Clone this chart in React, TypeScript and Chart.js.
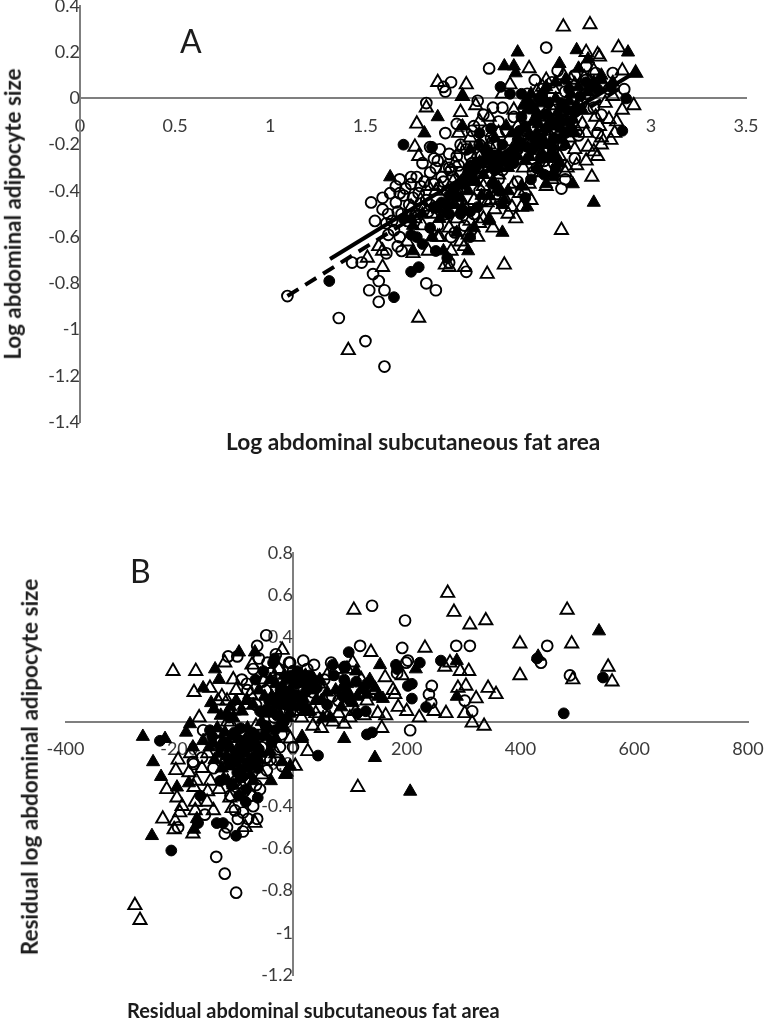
import React, { useEffect, useRef } from "react";
import { Chart, registerables } from "chart.js";

Chart.register(...registerables);

type P = number[];

const aOpenTriangles: P[] = [
  [2.54,.31],[2.68,.32],[2.83,.22],[2.66,.2],[2.72,.19],[2.73,.18],[2.36,.13],[2.92,.11],[2.85,.12],[1.88,.07],[2.03,.06],[2.45,.08],[2.26,.06],[2.22,.02],[2.01,.01],[1.82,-.04],[2.08,-.03],[1.77,-.11],[2,-.06],[1.99,-.15],[1.76,-.21],[1.78,-.25],[2.91,-.03],[2.85,-.05],[2.81,-.15],[2.74,-.17],[2.67,-.21],[2.7,-.23],[2.66,-.27],[2.61,-.29],[2.55,-.32],[2.69,-.34],[2.36,-.37],[2.4,-.25],[2.45,-.3],[2.2,-.39],[2.16,-.44],[2.14,-.45],[1.95,-.44],[2.27,-.47],[2.32,-.47],[2.29,-.52],[2.17,-.56],[2.53,-.57],[2.04,-.59],[1.41,-1.09],[1.78,-.95],[1.51,-.69],[1.59,-.73],[1.57,-.64],[1.59,-.66],[2.02,-.73],[2.14,-.76],[2.23,-.72],[1.94,-.73],[1.92,-.72],[2.02,-.64],[2.05,-.53],[1.96,-.45],[2.1,-.54],[1.88,-.6],[1.75,-.67],[1.83,-.66],[1.89,-.6],[1.72,-.62],
  [2.1,-.28],[2.15,-.2],[2.2,-.33],[2.25,-.25],[2.3,-.12],[2.33,-.3],[2.38,-.18],[2.41,-.08],[2.44,-.22],[2.47,-.03],[2.5,-.14],[2.52,-.25],[2.55,-.06],[2.57,-.17],[2.6,-.22],[2.62,-.02],[2.64,-.11],[2.66,-.15],[2.69,.03],[2.71,-.08],[2.73,-.12],[2.75,.06],[2.76,-.02],[2.78,-.09],[2.8,.01],[2.82,-.1],[2.58,.08],[2.54,.1],[2.49,.04],[2.6,.06],[2.65,.09],[2.7,.12],[2.43,.05],[2.56,-.3],[2.48,-.35],[2.42,-.32],[2.34,-.4],[2.28,-.37],[2.2,-.42],[2.12,-.38],[2.07,-.44],[2.03,-.48],[1.98,-.52],[1.94,-.56],[1.9,-.47],[1.85,-.5],[1.8,-.55],[1.96,-.36],[2.05,-.3],[1.92,-.3],[1.87,-.4],[1.83,-.38],[1.79,-.44],[1.74,-.47],[2.25,-.5],[2.18,-.48],[2.12,-.52],[2.09,-.6],[2,-.62],[1.95,-.66],[2.1,-.1],[2.15,-.08],[2.05,-.17],[2,-.22],[2.35,-.02],[2.28,-.05],[2.4,.03],[2.2,-.15],[2.45,-.38],[2.6,-.12],[2.67,-.05],[2.74,-.2],[2.79,-.18],[2.72,-.25],
  [1.97,-.28],[2.03,-.33],[2.09,-.24],[2.13,-.3],[2.17,-.36],[2.23,-.43],[1.89,-.38],[1.81,-.47],[1.76,-.52],[2.31,-.41],[2.37,-.44],
];

const aOpenCircles: P[] = [
  [2.45,.22],[2.15,.13],[1.95,.07],[1.91,.05],[1.92,.03],[1.82,-.02],[2.09,-.01],[2.17,-.04],[2.22,-.04],[2.12,-.07],[2.39,.08],[2.51,.12],[2.66,.14],[2.71,.11],[2.8,.11],[2.86,.04],[1.98,-.11],[1.92,-.15],[1.89,-.22],[1.84,-.21],[1.94,-.24],[1.98,-.25],[1.94,-.3],[1.87,-.3],[2,-.32],[2.53,-.39],[2.38,-.32],[1.09,-.855],[1.36,-.95],[1.5,-1.05],[1.6,-1.16],[1.43,-.71],[1.48,-.71],[1.54,-.76],[1.57,-.79],[1.52,-.83],[1.6,-.83],[1.57,-.88],[1.82,-.8],[1.87,-.83],[2.03,-.75],[1.61,-.67],[1.67,-.64],[1.69,-.66],[1.68,-.6],[1.62,-.59],[1.61,-.54],[1.53,-.45],[1.59,-.48],[1.67,-.49],[1.95,-.6],[1.94,-.71],[1.68,-.35],[1.74,-.34],[1.77,-.34],[1.63,-.41],[1.59,-.43],[1.66,-.38],[1.71,-.39],[1.74,-.37],[2.06,-.14],
  [1.55,-.53],[1.62,-.5],[1.66,-.45],[1.7,-.42],[1.75,-.43],[1.78,-.41],[1.82,-.44],[1.86,-.37],[1.9,-.34],[1.95,-.31],[1.98,-.4],[2.02,-.35],[2.05,-.25],[2.08,-.33],[2.1,-.2],[2.14,-.27],[2.18,-.25],[2.22,-.31],[2.26,-.18],[2.3,-.22],[2.34,-.14],[2.38,-.26],[2.42,-.1],[2.46,-.16],[2.5,-.05],[2.54,-.2],[2.58,-.09],[2.62,-.16],[2.66,.02],[2.7,-.04],[2.74,-.07],[2.78,.04],[2.48,.07],[2.44,-.27],[2.3,-.36],[2.2,-.35],[2.13,-.44],[2.07,-.5],[2.02,-.55],[1.97,-.58],[1.92,-.5],[1.88,-.55],[1.84,-.46],[1.77,-.5],[1.72,-.53],[1.65,-.57],[1.68,-.41],[1.8,-.28],[1.86,-.26],[2,-.2],[2.07,-.12],[2.14,-.14],[2.2,-.1],[2.28,-.08],[1.93,-.4],[2.1,-.4],[2.4,-.3],[2.55,-.35],[2.6,-.26],[2.72,-.15],[2.35,.02],[2.55,.03],[2.6,.1],[2.66,.08],
  [1.81,-.36],[1.84,-.32],[1.88,-.27],[1.91,-.36],[1.96,-.34],[1.99,-.29],[2.03,-.22],[2.06,-.28],[2.11,-.25],[2.16,-.17],[2.19,-.21],[2.24,-.14],[1.73,-.46],[1.69,-.5],[1.64,-.53],[1.79,-.38],[1.83,-.49],
];

const aFilledTriangles: P[] = [
  [2.3,.2],[2.23,.14],[2.28,.14],[2.29,.11],[2.61,.21],[2.88,.2],[2.52,.15],[2.62,.13],[2.67,.17],[2.74,.1],[2.92,.11],[2.01,.01],[1.88,-.08],[1.81,-.15],[2.7,-.45],[2.59,-.37],[2.45,-.37],[2.49,-.32],[2.49,-.34],[2.51,-.26],[2.23,-.44],[2.35,-.47],[2.22,-.46],[2.15,-.52],[2.22,-.58],[1.91,-.66],[2.04,-.66],[2.15,-.53],[1.75,-.66],[1.74,-.52],[1.63,-.34],[2.01,-.12],
  [2.35,-.05],[2.38,-.1],[2.4,-.15],[2.42,-.02],[2.44,-.2],[2.46,-.07],[2.48,-.12],[2.5,0],[2.52,-.18],[2.54,-.04],[2.56,-.1],[2.58,.02],[2.6,-.15],[2.62,.05],[2.64,-.05],[2.67,.03],[2.7,.07],[2.74,.08],[2.8,.07],[2.33,-.2],[2.3,-.25],[2.27,-.15],[2.36,-.25],[2.4,-.3],[2.46,-.26],[2.52,-.28],[2.25,-.3],[2.2,-.24],[2.16,-.3],[2.12,-.33],[2.08,-.36],[2.04,-.4],[2,-.43],[1.96,-.46],[1.92,-.5],[1.88,-.48],[2.1,-.2],[2.05,-.22],[2.18,-.17],[2.24,-.12],[1.85,-.6],[1.98,-.58],[2.07,-.56],[2.15,-.42],[2.25,-.4],[2.32,-.38],[1.8,-.5],[1.75,-.55],[2.55,.08],[2.5,.07],[2.45,.05],
  [2.33,-.03],[2.37,.02],[2.41,-.11],[2.43,-.17],[2.47,-.1],[2.49,-.21],[2.51,-.06],[2.53,-.13],[2.55,-.2],[2.57,-.01],[2.59,-.09],[2.61,-.03],[2.36,-.15],[2.39,-.05],[2.44,0],[2.29,-.21],[2.34,-.27],[2.43,-.24],[2.19,-.28],[2.14,-.22],
  [2.03,-.34],[2.07,-.31],[2.13,-.27],[2.21,-.26],[2.27,-.22],[1.98,-.42],[1.93,-.46],[1.89,-.52],[2.01,-.47],[2.11,-.42],
];

const aFilledCircles: P[] = [
  [2.21,.05],[2.26,.02],[2.32,.02],[2.79,.05],[2.87,0],[2.85,-.14],[1.7,-.2],[1.85,-.21],[2.34,-.43],[2.17,-.37],[1.31,-.79],[1.65,-.86],[1.74,-.75],[1.78,-.73],[1.87,-.66],[1.93,-.69],[1.74,-.59],[1.8,-.63],[1.7,-.52],[1.94,-.5],[2.05,-.49],
  [2.36,-.02],[2.4,-.08],[2.43,.02],[2.45,-.13],[2.47,-.2],[2.5,-.1],[2.53,-.02],[2.55,-.15],[2.57,.04],[2.6,-.06],[2.63,.01],[2.68,.05],[2.72,.04],[2.34,-.12],[2.38,-.22],[2.42,-.26],[2.48,-.24],[2.3,-.18],[2.26,-.24],[2.22,-.2],[2.16,-.25],[2.12,-.27],[2.06,-.33],[2.02,-.37],[1.98,-.38],[1.94,-.42],[1.9,-.45],[1.86,-.47],[2.1,-.15],[2.16,-.13],[2,-.5],[2.09,-.47],[1.84,-.56],[1.77,-.6],[2.05,-.6],[2.44,-.33],[2.5,-.3],[2.37,-.35],[2.2,-.4],
  [2.32,-.08],[2.38,-.04],[2.41,0],[2.44,-.07],[2.46,-.02],[2.49,-.17],[2.52,-.09],[2.56,-.05],[2.58,-.13],[2.39,-.18],[2.35,-.21],[2.28,-.28],[2.41,-.2],[2.24,-.27],[2.18,-.31],[2.08,-.28],
  [2.14,-.24],[2.04,-.3],[1.96,-.4],[2.2,-.3],[2.31,-.14],[2.66,.07],
];

const aSolidTrend: P[] = [[1.314,-.695],[2.93,.12]];
const aDashedTrend: P[] = [[1.09,-.855],[2.85,.05]];

const bOpenTriangles: P[] = [
  [107,.53],[272,.61],[283,.52],[311,.46],[339,.48],[482,.53],[399,.37],[490,.37],[399,.22],[554,.26],[561,.19],[492,.2],[232,.35],[137,.33],[276,.28],[267,.26],[294,.24],[309,.24],[304,.17],[290,.16],[343,.16],[357,.13],[322,.11],[248,.05],[269,.04],[302,.04],[315,-.005],[336,-.02],[200,.05],[185,.07],[222,.02],[163,.03],[149,.04],[156,-.03],[114,-.31],[26,-.14],[192,.22],[162,.21],[176,.15],[179,.13],
  [-211,.24],[-171,.24],[-105,.2],[-174,.14],[-146,.16],[-120,.28],[-72,.27],[-19,.34],[-132,.1],[-116,.1],[-165,.02],[-202,-.18],[-206,-.23],[-183,-.24],[4,-.21],[-222,-.32],[-204,-.36],[-195,-.4],[-229,-.46],
  [-278,-.87],[-269,-.94],[-199,-.43],[-207,-.47],[-209,-.51],[-176,-.53],[-172,-.38],[-172,-.42],[-151,-.38],[-111,-.36],[-107,-.41],[-84,-.5],[-67,-.48],[-174,-.31],
  [-150,-.15],[-160,-.22],[-145,-.28],[-130,-.32],[-120,-.08],[-112,.05],[-100,.15],[-90,-.3],[-85,.08],[-75,.13],[-65,-.02],[-55,-.25],[-50,.2],[-40,-.05],[-30,-.15],[-25,.25],[-15,.05],[-5,-.08],[5,.05],[15,.02],[25,.05],[35,-.02],[40,.04],[50,-.03],[60,.02],[70,0],[80,.04],[90,-.01],[100,.02],[110,.05],[125,.03],[45,.18],[60,.22],[75,.25],[95,.25],[105,.28],[120,.2],[130,.1],[145,.15],[-170,-.28],[-180,-.15],[-140,-.42],[-115,0],[-135,-.05],[-125,.12],[-150,-.33],[-95,-.12],
];

const bOpenCircles: P[] = [
  [139,.55],[197,.48],[118,.36],[192,.35],[287,.36],[311,.36],[447,.36],[436,.28],[487,.22],[202,.29],[199,.28],[244,.17],[239,.13],[243,.09],[302,.1],[315,.05],[206,-.04],[69,.12],[18,.29],[37,.27],[-5,.28],[67,.28],[0,-.12],[91,.26],[183,.23],
  [-47,.41],[-63,.36],[-114,.31],[-98,.31],[-7,.28],[-25,.25],[-39,.23],[-81,.18],[-54,.19],[-158,-.04],[-23,-.12],[-47,-.17],[-28,-.18],[-19,-.21],[-46,-.23],[-63,-.2],[-176,-.19],
  [-135,-.64],[-120,-.72],[-100,-.81],[-202,-.5],[-120,-.53],[-155,-.44],[-116,-.5],[-97,-.46],[-88,-.52],[-79,-.46],[-63,-.46],[-102,-.42],[-88,-.43],[-70,-.4],[-58,-.32],[-86,-.33],
  [-130,-.1],[-120,-.2],[-110,-.02],[-105,-.12],[-95,.06],[-88,-.18],[-80,.15],[-72,-.2],[-65,.08],[-55,-.12],[-48,.15],[-40,-.18],[-33,.02],[-28,.2],[-20,-.06],[-12,.18],[-5,.05],[0,.24],[8,.16],[16,.06],[25,.25],[35,.14],[45,.02],[55,.2],[-100,-.28],[-85,-.28],[-65,-.3],[-140,-.22],[-160,-.17],[-175,-.2],[-150,-.08],[-90,.2],[-70,.25],[-60,.3],[-45,.28],[-30,.32],[-110,-.35],[-75,-.35],[65,.12],[80,.1],
];

const bFilledTriangles: P[] = [
  [538,.43],[431,.31],[288,.29],[216,.25],[288,.12],[144,-.17],[206,-.33],[153,.27],[90,-.08],[16,-.07],[-5,-.21],[-14,-.25],[111,.24],[144,.16],[158,.11],[86,.16],[97,.14],[130,.13],[113,.12],[40,.1],[18,.11],[53,.02],[65,.02],[25,.06],
  [-95,.33],[-67,.33],[-137,.25],[-130,.2],[-158,.16],[-144,.09],[-139,.06],[-181,-.01],[-188,-.05],[-264,-.07],[-225,-.08],[-158,-.09],[-176,-.12],[-246,-.19],[-232,-.26],[-204,-.31],[-12,-.25],[-39,-.28],[16,-.08],[42,.1],
  [-248,-.54],[-174,-.51],[-169,-.46],[-19,-.19],[-11,-.24],[-183,-.29],
  [-120,-.05],[-110,-.12],[-105,.02],[-100,-.2],[-95,-.08],[-90,.05],[-85,-.15],[-80,-.03],[-75,-.25],[-70,.08],[-65,-.1],[-60,-.18],[-55,0],[-50,.12],[-45,-.07],[-40,-.14],[-35,.05],[-30,.18],[-25,-.02],[-20,.1],[-15,.22],[-10,.02],[-5,.15],[0,.07],[5,.2],[10,.12],[15,.18],[25,.2],[30,.15],[-130,-.15],[-125,-.22],[-115,-.28],[-105,-.3],[-95,-.27],[-85,-.22],[-70,-.28],[-140,-.1],[-60,.15],[-80,.1],[-40,.2],[-15,-.03],[30,.05],[50,.1],[60,.14],[75,.15],[85,.07],[95,.18],[105,.09],[120,.15],[135,.2],[150,.12],[-100,.1],[-110,.07],
  [-117,-.16],[-108,-.07],[-97,-.14],[-93,-.23],[-83,-.08],[-77,-.18],[-68,-.16],[-62,-.07],[-57,-.15],[-47,.04],[-43,-.03],[-37,.12],[-27,.09],[-18,.17],[-8,.2],[-122,-.27],[-112,-.21],[-90,-.18],[-72,-.12],[-52,-.06],
  [-147,-.12],[-138,-.18],[-133,-.03],[-127,.03],[-123,-.09],[-116,.04],[-30,-.08],[-22,.03],[-14,.11],[-6,.04],[12,.2],[22,.22],[35,.17],[47,.2],
];

const bFilledCircles: P[] = [
  [476,.04],[545,.21],[429,.3],[260,.29],[223,.28],[181,.27],[183,.25],[209,.18],[202,.17],[209,.11],[234,.07],[130,-.06],[139,-.05],[44,-.16],[113,.04],[128,.05],[111,.19],[98,.33],[91,.26],[70,.27],[130,.18],
  [-32,.3],[-234,-.09],[-146,-.04],[-62,-.36],[-163,-.35],
  [-214,-.61],[-100,-.54],[-134,-.48],[-123,-.48],[-167,-.48],[-83,-.38],
  [-118,-.1],[-102,-.16],[-92,-.03],[-88,-.26],[-78,-.12],[-72,-.05],[-62,-.22],[-58,.05],[-48,-.02],[-42,.1],[-38,-.1],[-28,.03],[-22,.15],[-12,.08],[-3,.22],[3,.13],[8,.24],[14,.08],[20,.22],[28,.18],[36,.2],[-108,-.3],[-95,-.35],[-82,-.32],[-128,-.28],[-66,.2],[-52,.24],[-35,.28],[60,.08],[72,.22],[88,.12],[100,.1],[90,.2],
  [-113,-.19],[-103,-.05],[-98,-.24],[-86,-.09],[-76,-.2],[-68,-.07],[-60,-.13],[-46,.06],[-32,-.04],[-24,.08],[-10,.14],[-2,.1],[22,.14],[-90,-.12],[-70,-.17],
  [-142,-.07],[-128,-.12],[-112,.02],[-26,.12],[-16,.0],[6,.18],[30,.22],[42,.16],
];

const titleAX = "Log abdominal subcutaneous fat area";
const titleAY = "Log abdominal adipocyte size";
const titleBX = "Residual abdominal subcutaneous fat area";
const titleBY = "Residual log abdominal adipocyte size";

const FONT = "Lato, 'Open Sans', sans-serif";
const AXIS = "#7f7f7f";
const TICK = "#3a3a3a";

const pts = (a: P[]) => a.map(([x, y]) => ({ x, y }));

function marker(label: string, data: P[], style: string, filled: boolean) {
  const tri = style === "triangle";
  return {
    label,
    data: pts(data),
    pointStyle: style,
    pointRadius: tri ? 7.6 : 5.4,
    pointBorderWidth: filled ? 1 : 1.9,
    pointBorderColor: "#000",
    pointBackgroundColor: filled ? "#000" : "rgba(255,255,255,0)",
    showLine: false,
    clip: false as const,
  };
}

function line(label: string, data: P[], dash: number[]) {
  return {
    label,
    data: pts(data),
    showLine: true,
    pointRadius: 0,
    borderColor: "#000",
    borderWidth: 4,
    borderDash: dash,
    clip: false as const,
  };
}

function scale(min: number, max: number, step: number, axisPos: any) {
  return {
    type: "linear" as const,
    min,
    max,
    position: axisPos,
    grid: { display: false, drawTicks: false },
    border: { display: true, color: AXIS, width: 2 },
    ticks: {
      stepSize: step,
      autoSkip: false,
      maxRotation: 0,
      padding: 17,
      color: TICK,
      font: { family: FONT, size: 18 },
      callback: (v: any) => String(Math.round(Number(v) * 10) / 10),
    },
  };
}

function ScatterChart(props: { width: number; height: number; top: number; padding: any; datasets: any[]; x: any; y: any }) {
  const ref = useRef<HTMLCanvasElement>(null);
  useEffect(() => {
    const chart = new Chart(ref.current as HTMLCanvasElement, {
      type: "scatter",
      data: { datasets: props.datasets },
      options: {
        animation: false,
        responsive: false,
        layout: { padding: props.padding },
        plugins: { legend: { display: false }, title: { display: false }, tooltip: { enabled: false } },
        scales: { x: props.x, y: props.y },
      } as any,
    });
    return () => chart.destroy();
  }, []);
  return (
    <canvas
      ref={ref}
      width={props.width}
      height={props.height}
      style={{ position: "absolute", left: 0, top: props.top, width: props.width, height: props.height }}
    />
  );
}

const hText = (text: string, left: number, top: number, size: number, bold: boolean): React.ReactElement => (
  <div
    style={{
      position: "absolute",
      left,
      top,
      fontFamily: FONT,
      fontSize: size,
      fontWeight: bold ? 700 : 400,
      color: "#1c1c1c",
      whiteSpace: "nowrap",
      lineHeight: 1,
    }}
  >
    {text}
  </div>
);

const vText = (text: string, cx: number, cy: number, size: number): React.ReactElement => (
  <div
    style={{
      position: "absolute",
      left: cx,
      top: cy,
      transform: "translate(-50%,-50%) rotate(-90deg)",
      fontFamily: FONT,
      fontSize: size,
      fontWeight: 700,
      color: "#1c1c1c",
      whiteSpace: "nowrap",
      lineHeight: 1,
    }}
  >
    {text}
  </div>
);

export default function App() {
  const dsA = [
    line("Trend solid", aSolidTrend, []),
    line("Trend dashed", aDashedTrend, [13, 8]),
    marker("Open triangle", aOpenTriangles, "triangle", false),
    marker("Open circle", aOpenCircles, "circle", false),
    marker("Filled triangle", aFilledTriangles, "triangle", true),
    marker("Filled circle", aFilledCircles, "circle", true),
  ];
  const dsB = [
    marker("Open triangle", bOpenTriangles, "triangle", false),
    marker("Open circle", bOpenCircles, "circle", false),
    marker("Filled triangle", bFilledTriangles, "triangle", true),
    marker("Filled circle", bFilledCircles, "circle", true),
  ];
  return (
    <div style={{ position: "absolute", left: 0, top: 0, width: 766, height: 1020, overflow: "hidden", background: "#fff" }}>
      <ScatterChart
        width={826}
        height={532}
        top={-40}
        padding={{ left: 80, right: 80, top: 46, bottom: 70 }}
        datasets={dsA}
        x={scale(0, 3.5, 0.5, { y: 0 })}
        y={scale(-1.4, 0.4, 0.2, { x: 0 })}
      />
      <ScatterChart
        width={826}
        height={555}
        top={490}
        padding={{ left: 65.5, right: 78, top: 63, bottom: 70 }}
        datasets={dsB}
        x={scale(-400, 800, 200, { y: 0 })}
        y={scale(-1.2, 0.8, 0.2, { x: 0 })}
      />
      {hText("A", 180, 25, 32, false)}
      {hText("B", 130, 555, 32, false)}
      {hText(titleAX, 226, 431, 22.7, true)}
      {hText(titleBX, 127, 1000, 20, true)}
      {vText(titleAY, 13, 214, 22.4)}
      {vText(titleBY, 30, 767, 22.5)}
    </div>
  );
}
